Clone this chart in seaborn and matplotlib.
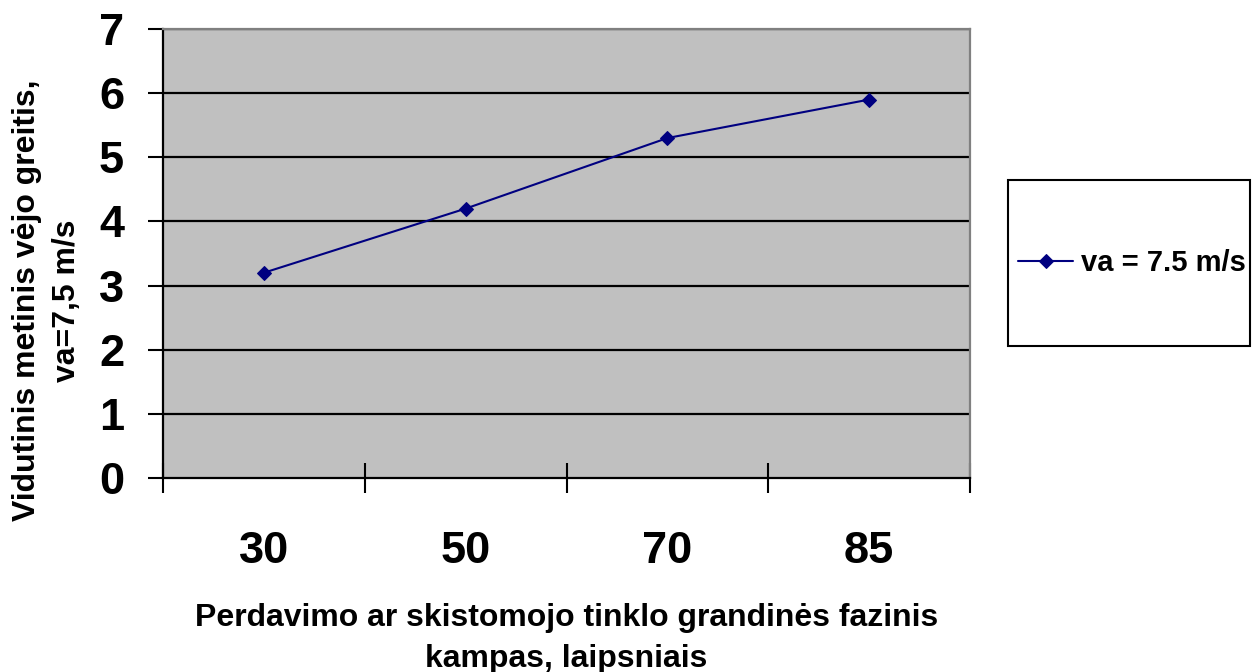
import matplotlib
matplotlib.use("Agg")
import matplotlib.pyplot as plt
import seaborn as sns
import pandas as pd
from matplotlib.patches import Rectangle
from matplotlib.ticker import FixedLocator

angles = ["30", "50", "70", "85"]
wind_speed = [3.2, 4.2, 5.3, 5.9]
series_name = "va = 7.5 m/s"
y_ticks = [0, 1, 2, 3, 4, 5, 6, 7]

sns.set_theme(style="white")
plt.rcParams["font.family"] = ["Liberation Sans", "DejaVu Sans"]
plt.rcParams["font.weight"] = "bold"
for key in ["text.color", "axes.labelcolor", "xtick.color", "ytick.color"]:
    plt.rcParams[key] = "black"

df = pd.DataFrame({"angle": angles, "speed": wind_speed, "series": series_name})

fig = plt.figure(figsize=(12.57, 6.72), dpi=100)
ax = fig.add_axes([163 / 1257, 1 - 478 / 672, 807 / 1257, 449 / 672])
ax.set_facecolor("#C0C0C0")

sns.lineplot(data=df, x="angle", y="speed", hue="series", palette=["#000080"],
             marker="D", markersize=7, markeredgecolor="#000080", linewidth=1.5,
             ax=ax, sort=False, legend=True)

ax.set_ylim(0, 7)
ax.set_xlim(-0.5, len(angles) - 0.5)
ax.set_yticks(y_ticks)
ax.set_yticklabels([str(v) for v in y_ticks])
ax.grid(False)
for v in y_ticks[1:]:
    ax.axhline(v, color="black", linewidth=1.6, zorder=1)

# category axis: labels centred, tick marks between categories
ax.set_xticks(range(len(angles)))
ax.set_xticklabels(angles)
ax.xaxis.set_minor_locator(FixedLocator([i - 0.5 for i in range(len(angles) + 1)]))
ax.tick_params(axis="x", which="major", length=0, pad=38, labelsize=32.5)
ax.tick_params(axis="x", which="minor", length=21, width=1.5, direction="inout",
               color="black", bottom=True)
ax.tick_params(axis="y", which="major", length=11, width=1.5, direction="out",
               color="black", left=True, pad=17, labelsize=32.5)

for side in ["left", "bottom"]:
    ax.spines[side].set_color("black")
    ax.spines[side].set_linewidth(1.6)
for side in ["top", "right"]:
    ax.spines[side].set_color("#808080")
    ax.spines[side].set_linewidth(1.6)

ax.set_xlabel("Perdavimo ar skistomojo tinklo grandinės fazinis\nkampas, laipsniais",
              fontsize=23, fontweight="bold", linespacing=1.5)
ax.xaxis.set_label_coords(0.5, -0.278)
ax.xaxis.label.set_va("top")
ax.set_ylabel("Vidutinis metinis vėjo greitis,\nva=7,5 m/s",
              fontsize=23, fontweight="bold", linespacing=1.45)
ax.yaxis.set_label_coords(-0.1435, 0.395)
ax.yaxis.label.set_va("center")

# legend panel to the right of the plot
handles, labels = ax.get_legend_handles_labels()
ax.get_legend().remove()
fig.patches.append(Rectangle((1008 / 1257, 1 - 346 / 672), 242 / 1257, 166 / 672,
                             transform=fig.transFigure, facecolor="white",
                             edgecolor="black", linewidth=1.5))
fig.legend(handles, labels, loc="center left",
           bbox_to_anchor=(1018 / 1257, 1 - 263 / 672), frameon=False,
           prop={"size": 21, "weight": "bold"}, handlelength=1.9,
           handletextpad=0.25, borderaxespad=0, borderpad=0)

fig.savefig("out.png", dpi=100)
